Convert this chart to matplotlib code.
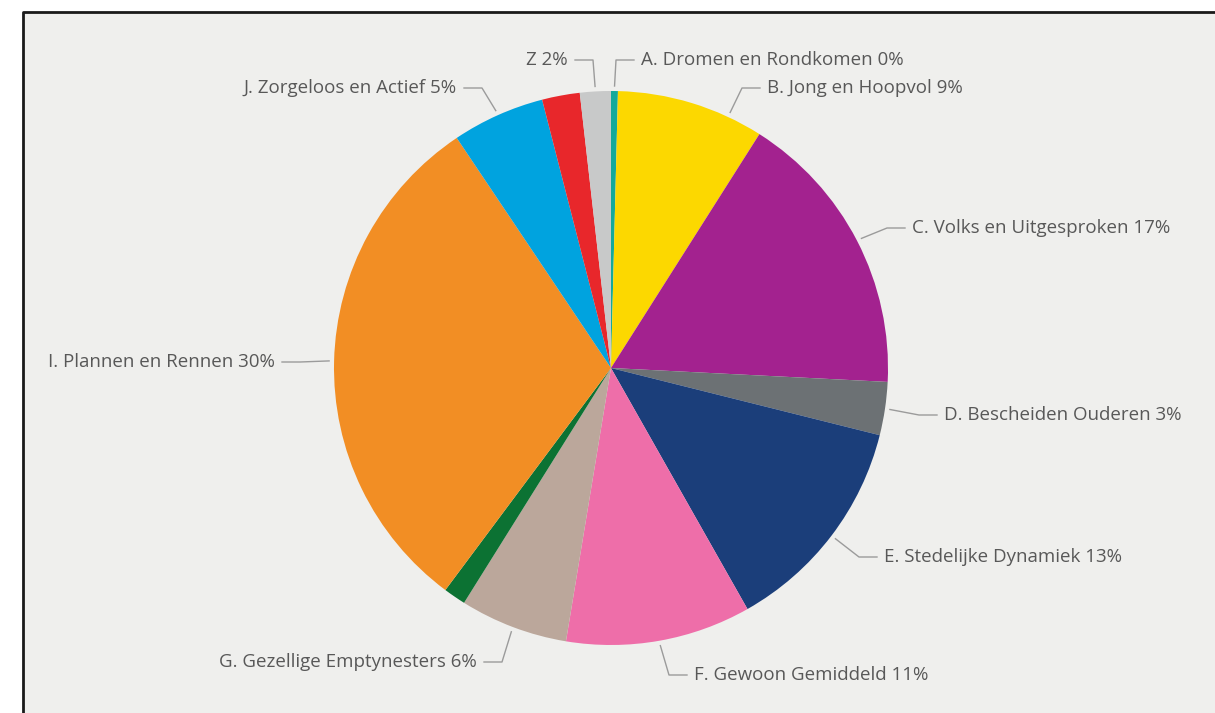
import numpy as np
from matplotlib import pyplot as plt
from matplotlib.patches import Rectangle

# segment data (share in %), clockwise from 12 o'clock
names = ["A. Dromen en Rondkomen", "B. Jong en Hoopvol", "C. Volks en Uitgesproken",
         "D. Bescheiden Ouderen", "E. Stedelijke Dynamiek", "F. Gewoon Gemiddeld",
         "G. Gezellige Emptynesters", "H", "I. Plannen en Rennen",
         "J. Zorgeloos en Actief", "K", "Z"]
shares = [0.4, 8.6, 16.8, 3.1, 12.9, 10.8, 6.3, 1.3, 30.4, 5.4, 2.2, 1.8]
shown = [True, True, True, True, True, True, True, False, True, True, False, True]
colors = ["#14A99B", "#FCD800", "#A3228F", "#6C7174", "#1B3E7A", "#EE6EA9",
          "#BBA79B", "#0C7233", "#F28E24", "#00A3DF", "#E8272B", "#C8C9C9"]

# label placement in pixels (x, y from top, alignment)
label_pos = {
    "A": (641, 60, "left"), "B": (767, 88, "left"), "C": (912, 228, "left"),
    "D": (944, 415, "left"), "E": (884, 557, "left"), "F": (694, 675, "left"),
    "G": (477, 662, "right"), "I": (275, 362, "right"), "J": (457, 88, "right"),
    "Z": (568, 60, "right"),
}

W, H = 1215, 713
CX, CY, R = 611, 368, 277

fig = plt.figure(figsize=(W / 100, H / 100), dpi=100)
fig.patch.set_facecolor("white")
ax = fig.add_axes([0, 0, 1, 1])

# panel background and frame
ax.add_patch(Rectangle((23, 0), W, H - 12, facecolor="#EFEFED", edgecolor="none", zorder=0))
ax.plot([23, 23, W], [0, H - 12, H - 12], color="#1a1a1a", lw=2, zorder=1)

ax.pie(shares, colors=colors, startangle=90, counterclock=False,
       center=(CX, H - CY), radius=R, wedgeprops=dict(linewidth=0))

# labels with leader lines
total = sum(shares)
cum = np.cumsum([0] + shares[:-1])
for name, s, c0, show in zip(names, shares, cum, shown):
    if not show:
        continue
    key = name[0]
    tx, ty, ha = label_pos[key]
    ang = np.radians((c0 + s / 2) / total * 360)
    if key == "B":
        ang = np.radians(25)  # leader sits off-centre in the original
    sx = CX + (R + 5) * np.sin(ang)
    sy = CY - (R + 5) * np.cos(ang)
    sign = 1 if ha == "left" else -1
    ex = tx - sign * 25
    hx = tx - sign * 7
    ax.plot([sx, ex, hx], [H - sy, H - ty, H - ty], color="#9b9b9b", lw=1, zorder=3)
    pct = "%d%%" % round(s)
    txt = name + " " + pct if key != "Z" else "Z " + pct
    ax.text(tx, H - ty, txt, ha=ha, va="center", fontsize=13.5,
            family=["Open Sans", "DejaVu Sans"], color="#585858")

ax.set_xlim(0, W)
ax.set_ylim(0, H)
ax.set_aspect("auto")
ax.axis("off")

fig.savefig("out.png", dpi=100)
